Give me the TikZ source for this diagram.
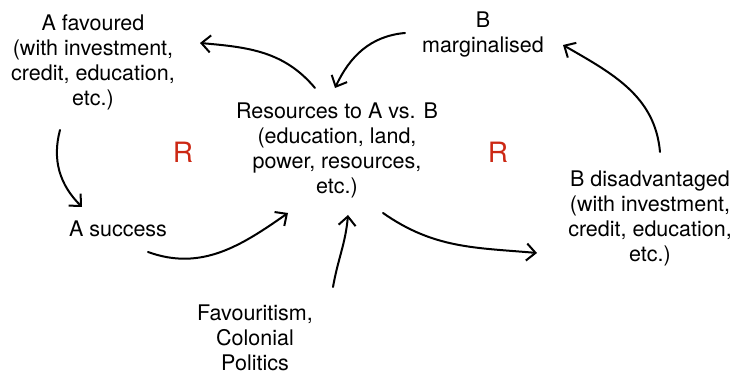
\documentclass[tikz,border=0pt]{standalone}
\usepackage{fontspec}
\setmainfont{TeX Gyre Heros}
\usetikzlibrary{arrows.meta}
\definecolor{loopred}{RGB}{204,40,20}

\begin{document}
\begin{tikzpicture}[
    x=1pt, y=1pt,
    text_style/.style={align=center, inner sep=0pt, font=\fontsize{21.5}{25}\selectfont},
    link_style/.style={-{Straight Barb[length=9pt,width=17pt]}, line width=2pt, line cap=round},
    loop_style/.style={inner sep=0pt, text=loopred, font=\fontsize{28}{30}\selectfont}
]
    \useasboundingbox (0,0) rectangle (737,374);

    % Variables
    \node[text_style] (fav) at (93,312) {A favoured\\(with investment,\\credit, education,\\etc.)};
    \node[text_style] (marg) at (483,339.5) {B\\marginalised};
    \node[text_style] (res) at (337,224) {Resources to A vs. B\\(education, land,\\power, resources,\\etc.)};
    \node[text_style] (dis) at (650,156) {B disadvantaged\\(with investment,\\credit, education,\\etc.)};
    \node[text_style] (succ) at (118,144.7) {A success};
    \node[text_style] (favpol) at (255,36) {Favouritism,\\Colonial\\Politics};

    % Loop markers
    \node[loop_style] (loop_a) at (183,222) {R};
    \node[loop_style] (loop_b) at (498,222) {R};

    % Left loop
    \draw[link_style] ([shift={(-22,62)}]res.center) to[out=130, in=-5] ([shift={(107,19)}]fav.center);
    \draw[link_style] ([shift={(-33,-68)}]fav.center) to[out=255, in=135] ([shift={(-36,22.3)}]succ.center);
    \draw[link_style] ([shift={(30,-22.7)}]succ.center) to[out=-20, in=215] ([shift={(-49,-63)}]res.center);

    % Right loop
    \draw[link_style] ([shift={(46,-63)}]res.center) to[out=-35, in=175] ([shift={(-113,-35)}]dis.center);
    \draw[link_style] ([shift={(10,66)}]dis.center) to[out=95, in=-30] ([shift={(80,-10.5)}]marg.center);
    \draw[link_style] ([shift={(-78,1.5)}]marg.center) to[out=185, in=65] ([shift={(-2,62)}]res.center);

    % Outside driver
    \draw[link_style] ([shift={(78,51)}]favpol.center) to[out=80, in=-95] ([shift={(11,-65)}]res.center);

\end{tikzpicture}
\end{document}
